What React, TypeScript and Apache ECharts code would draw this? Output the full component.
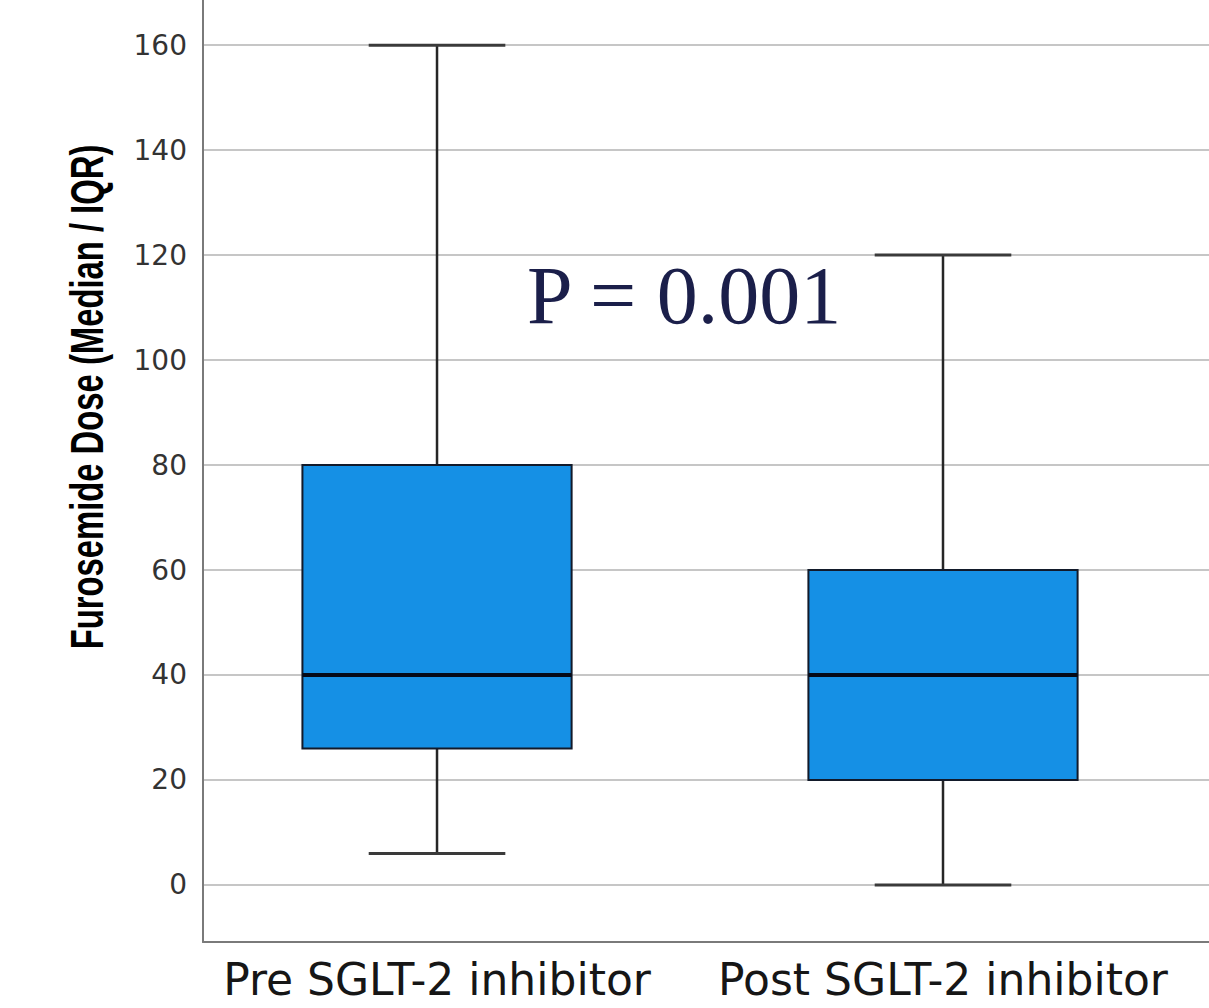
import React, { useEffect, useRef } from "react";
import * as echarts from "echarts";

const categories = ["Pre SGLT-2 inhibitor", "Post SGLT-2 inhibitor"];
const categoryPositions = [1, 2];
const whiskerLow = [6, 0];
const quartile1 = [26, 20];
const medians = [40, 40];
const quartile3 = [80, 60];
const whiskerHigh = [160, 120];
const yTicks = [0, 20, 40, 60, 80, 100, 120, 140, 160];
const yAxisTitle = "Furosemide Dose (Median / IQR)";
const pValueText = "P = 0.001";

export default function App() {
  const ref = useRef<HTMLDivElement>(null);
  useEffect(() => {
    if (!ref.current) return;
    const chart = echarts.init(ref.current, null, { renderer: "svg" });
    const data = categoryPositions.map((x, i) => [
      x,
      whiskerLow[i],
      quartile1[i],
      medians[i],
      quartile3[i],
      whiskerHigh[i],
    ]);
    chart.setOption({
      animation: false,
      backgroundColor: "#ffffff",
      grid: { left: 203, right: 0, top: 0, bottom: 66 },
      xAxis: {
        type: "value",
        min: 0.5375,
        max: 2.5257,
        axisLine: { show: true, onZero: false, lineStyle: { color: "#7a7a7a", width: 2 } },
        axisTick: { show: false },
        splitLine: { show: false },
        axisLabel: {
          customValues: categoryPositions,
          formatter: (v: number) => {
            const i = categoryPositions.indexOf(Math.round(v));
            return i >= 0 ? categories[i] : "";
          },
          fontFamily: "DejaVu Sans",
          fontSize: 44,
          color: "#161616",
          margin: 15,
        },
      },
      yAxis: {
        type: "value",
        min: -10.87,
        max: 168.6,
        minInterval: 20,
        maxInterval: 20,
        axisLine: { show: true, onZero: false, lineStyle: { color: "#7a7a7a", width: 2 } },
        axisTick: { show: false },
        axisLabel: {
          customValues: yTicks,
          fontFamily: "DejaVu Sans",
          fontSize: 28,
          color: "#333333",
          margin: 16,
        },
        splitLine: {
          show: true,
          showMinLine: false,
          showMaxLine: false,
          lineStyle: { color: "#c6c6c6", width: 2 },
        },
      },
      graphic: [
        {
          type: "text",
          x: 87,
          y: 397,
          rotation: Math.PI / 2,
          scaleX: 0.82,
          scaleY: 1.15,
          style: {
            text: yAxisTitle,
            align: "center",
            verticalAlign: "middle",
            fontFamily: "'Liberation Sans', Arial, sans-serif",
            fontWeight: "bold",
            fontSize: 40,
            fill: "#000000",
          },
        },
        {
          type: "text",
          x: 527,
          y: 295,
          style: {
            text: pValueText,
            align: "left",
            verticalAlign: "middle",
            fontFamily: "'Liberation Serif', serif",
            fontSize: 82,
            fill: "#1b1f4a",
          },
        },
      ],
      series: [
        {
          type: "custom",
          data,
          encode: { x: 0, y: [1, 2, 3, 4, 5] },
          renderItem: (params: any, api: any) => {
            const x = api.value(0);
            const lo = api.coord([x, api.value(1)]);
            const q1 = api.coord([x, api.value(2)]);
            const med = api.coord([x, api.value(3)]);
            const q3 = api.coord([x, api.value(4)]);
            const hi = api.coord([x, api.value(5)]);
            const unit = api.size([1, 0])[0];
            const boxHalf = unit * 0.266;
            const capHalf = unit * 0.135;
            const cx = lo[0];
            const whisker = { stroke: "#262626", lineWidth: 2.5 };
            return {
              type: "group",
              children: [
                { type: "line", shape: { x1: cx, y1: hi[1], x2: cx, y2: q3[1] }, style: whisker },
                { type: "line", shape: { x1: cx, y1: q1[1], x2: cx, y2: lo[1] }, style: whisker },
                { type: "line", shape: { x1: cx - capHalf, y1: hi[1], x2: cx + capHalf, y2: hi[1] }, style: { stroke: "#3a3a3a", lineWidth: 3 } },
                { type: "line", shape: { x1: cx - capHalf, y1: lo[1], x2: cx + capHalf, y2: lo[1] }, style: { stroke: "#3a3a3a", lineWidth: 3 } },
                {
                  type: "rect",
                  shape: { x: cx - boxHalf, y: q3[1], width: boxHalf * 2, height: q1[1] - q3[1] },
                  style: { fill: "#1590e5", stroke: "#121a2a", lineWidth: 2 },
                },
                { type: "line", shape: { x1: cx - boxHalf, y1: med[1], x2: cx + boxHalf, y2: med[1] }, style: { stroke: "#050a18", lineWidth: 4 } },
              ],
            };
          },
        },
      ],
    });
    return () => chart.dispose();
  }, []);
  return (
    <div
      ref={ref}
      style={{ position: "fixed", left: 0, top: 0, width: 1209, height: 1008 }}
    />
  );
}
